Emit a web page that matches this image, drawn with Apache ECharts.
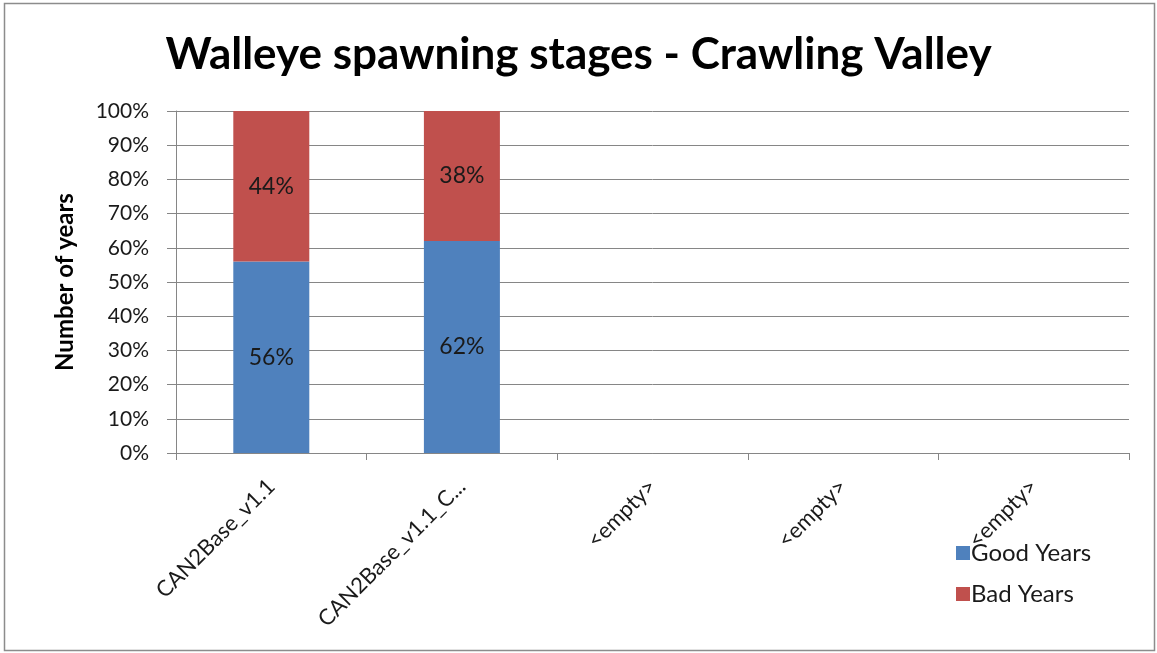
<!DOCTYPE html>
<html>
<head>
<meta charset="utf-8">
<script src="https://cdn.jsdelivr.net/npm/echarts@6/dist/echarts.min.js"></script>
<style>html,body{margin:0;padding:0;background:#fff;}#c{width:1157px;height:653px;}</style>
</head>
<body>
<div id="c"></div>
<script>
const categories = ['CAN2Base_v1.1', 'CAN2Base_v1.1_C...', '<empty>', '<empty>', '<empty>'];
const goodYears = [56, 62, null, null, null];
const badYears = [44, 38, null, null, null];
const yTicks = { min: 0, max: 100, interval: 10 };

const FONT = 'Lato';
const chart = echarts.init(document.getElementById('c'), null, { renderer: 'canvas' });
const lbl = {
  show: true, position: 'inside', color: '#1a1a1a', fontFamily: FONT, fontSize: 23,
  formatter: p => p.value == null ? '' : p.value + '%'
};
chart.setOption({
  animation: false,
  backgroundColor: '#fff',
  title: {
    text: 'Walleye spawning stages - Crawling Valley',
    left: 'center', top: 28,
    textStyle: { fontFamily: FONT, fontWeight: 'bold', fontSize: 44, color: '#000' }
  },
  graphic: [{
    type: 'rect', shape: { x: 4.5, y: 3.5, width: 1150, height: 647 },
    style: { fill: 'none', stroke: '#8c8c8c', lineWidth: 1.5 }, silent: true
  }],
  legend: {
    orient: 'vertical', left: 951, top: 536,
    itemWidth: 14, itemHeight: 14, itemGap: 17, icon: 'rect',
    textStyle: { fontFamily: FONT, fontSize: 24, lineHeight: 24, color: '#1a1a1a', padding: [0, 0, 0, -4] },
    data: ['Good Years', 'Bad Years']
  },
  grid: { left: 176, right: 28, top: 111, bottom: 200, containLabel: false },
  xAxis: {
    type: 'category', data: categories,
    axisLine: { lineStyle: { color: '#868686', width: 1 } },
    axisTick: { show: true, length: 7, lineStyle: { color: '#868686' } },
    axisLabel: { rotate: 45, interval: 0, margin: 30, fontFamily: FONT, fontSize: 22, color: '#1a1a1a' }
  },
  yAxis: {
    type: 'value', min: yTicks.min, max: yTicks.max, interval: yTicks.interval,
    name: 'Number of years', nameLocation: 'middle', nameGap: 99, nameRotate: 90,
    nameTextStyle: { fontFamily: FONT, fontWeight: 'bold', fontSize: 24, color: '#000' },
    axisLine: { show: true, lineStyle: { color: '#868686' } },
    axisTick: { show: true, length: 9, inside: false, lineStyle: { color: '#868686' } },
    axisLabel: { formatter: '{value}%', margin: 27, fontFamily: FONT, fontSize: 21, color: '#1a1a1a' },
    splitLine: { show: true, lineStyle: { color: '#868686', width: 1 } }
  },
  series: [
    { name: 'Good Years', type: 'bar', stack: 's', data: goodYears, barWidth: 76,
      itemStyle: { color: '#4F81BD' }, label: lbl },
    { name: 'Bad Years', type: 'bar', stack: 's', data: badYears, barWidth: 76,
      itemStyle: { color: '#C0504D' }, label: lbl }
  ]
});
</script>
</body>
</html>
